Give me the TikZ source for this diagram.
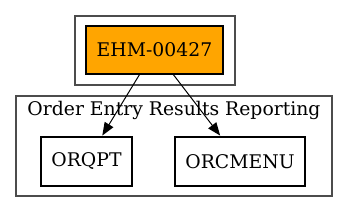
\documentclass[tikz,border=0pt]{standalone}
\usepackage{fontspec}
\setmainfont{DejaVu Serif}
\usetikzlibrary{arrows.meta}
\definecolor{gvorange}{RGB}{255,165,0}
\begin{document}
\begin{tikzpicture}[x=1pt,y=-1pt,
  cluster/.style={draw=black!70,line width=1.4pt},
  box/.style={draw=black,inner sep=0pt,font=\fontsize{18.8}{22}\selectfont},
  edge/.style={draw=black,line width=1pt,-{Triangle[length=13pt,width=10pt]}}]
\useasboundingbox (0,0) rectangle (348,212);
\draw[cluster] (75,16) rectangle (235,85);
\draw[cluster] (16,96) rectangle (332,196);
\node[box,fill=gvorange,line width=1.4pt,minimum width=137pt,minimum height=48pt] (ehm) at (154.5,50) {EHM-00427};
\node[box,line width=2.8pt,minimum width=91pt,minimum height=49pt] (orqpt) at (86.5,161.5) {ORQPT};
\node[box,line width=2.8pt,minimum width=130pt,minimum height=49pt] (orcmenu) at (240,161.5) {ORCMENU};
\node[font=\fontsize{18.8}{22}\selectfont,inner sep=0pt] (lbl) at (174,110) {Order Entry Results Reporting};
\draw[edge] (ehm) -- (orqpt);
\draw[edge] (ehm) -- (orcmenu);
\end{tikzpicture}
\end{document}
